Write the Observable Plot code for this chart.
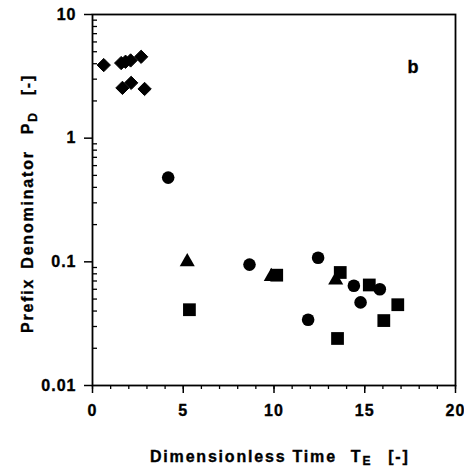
<!DOCTYPE html>
<html>
<head>
<meta charset="utf-8">
<script src="https://cdn.jsdelivr.net/npm/d3@7"></script>
<script src="https://cdn.jsdelivr.net/npm/@observablehq/plot@0.6"></script>
<style>
  html, body { margin: 0; padding: 0; background: #fff; }
  #chart svg { display: block; }
  #chart svg text { stroke: #000; stroke-width: 0.35px; }
</style>
</head>
<body>
<div id="chart"></div>
<script>
// Data (x = dimensionless time T_E, y = prefix denominator P_D)
const diamondX = [0.62, 1.58, 1.82, 2.10, 2.68, 1.65, 2.13, 2.87];
const diamondY = [3.9, 4.05, 4.15, 4.25, 4.55, 2.55, 2.8, 2.5];
const circleX = [4.17, 8.65, 12.43, 11.88, 14.40, 15.83, 14.77];
const circleY = [0.48, 0.095, 0.108, 0.034, 0.064, 0.060, 0.047];
const triangleX = [5.22, 9.85, 13.40];
const triangleY = [0.100, 0.076, 0.071];
const squareX = [5.34, 10.15, 13.65, 15.25, 16.82, 16.05, 13.50];
const squareY = [0.041, 0.078, 0.082, 0.065, 0.045, 0.0335, 0.024];

const xMajor = [0, 5, 10, 15, 20];
const xMinor = d3.range(0, 21, 1);
const yMajor = [0.01, 0.1, 1, 10];
const yMinor = [0.01, 0.1, 1].flatMap(d => [2,3,4,5,6,7,8,9].map(k => +(d * k).toPrecision(3)));

const pts = (xs, ys) => xs.map((x, i) => ({x, y: ys[i]}));

const plot = Plot.plot({
  width: 464,
  height: 468,
  marginLeft: 92,
  marginRight: 9,
  marginTop: 14,
  marginBottom: 83,
  style: {fontFamily: "'Liberation Sans', Arial, sans-serif", fontWeight: "bold", fontSize: "16px", background: "#fff", color: "#000", letterSpacing: "1px"},
  x: {domain: [0, 20], axis: null},
  y: {type: "log", domain: [0.01, 10], axis: null},
  marks: [
    Plot.axisX(xMinor, {tickSize: 4, tickFormat: () => "", strokeWidth: 1.3, label: null}),
    Plot.axisX(xMajor, {tickSize: 8, tickPadding: 11, strokeWidth: 1.5, fontSize: 16, label: null}),
    Plot.axisY(yMinor, {tickSize: -5, tickFormat: () => "", strokeWidth: 1.3, label: null}),
    Plot.axisY(yMajor, {tickSize: 8, tickPadding: 8, strokeWidth: 1.5, fontSize: 16, label: null, tickFormat: d => String(d)}),
    Plot.frame({stroke: "#000", strokeWidth: 1.8}),
    Plot.dot(pts(diamondX, diamondY), {x: "x", y: "y", symbol: "diamond2", r: 6, fill: "#000", stroke: "#000", strokeWidth: 1}),
    Plot.dot(pts(circleX, circleY), {x: "x", y: "y", symbol: "circle", r: 6.3, fill: "#000"}),
    Plot.dot(pts(triangleX, triangleY), {x: "x", y: "y", symbol: "triangle", r: 5.6, fill: "#000"}),
    Plot.dot(pts(squareX, squareY), {x: "x", y: "y", symbol: "square", r: 7.2, fill: "#000"}),
    Plot.text(["b"], {frameAnchor: "top-right", dx: -36, dy: 46, fontSize: 18, fontWeight: "bold", fill: "#000"})
  ]
});

const svg = d3.select(plot);
// x-axis label with subscript
const xl = svg.append("text")
  .attr("x", 150).attr("y", 462)
  .attr("text-anchor", "start")
  .attr("font-size", 16).attr("font-weight", "bold")
  .attr("letter-spacing", 1.8)
  .attr("fill", "#000");
xl.append("tspan").text("Dimensionless Time");
xl.append("tspan").attr("dx", 14).text("T");
xl.append("tspan").attr("dy", 3).attr("font-size", 12).text("E");
xl.append("tspan").attr("dy", -3).attr("dx", 16).text("[-]");

// y-axis label with subscript (reads bottom to top)
const yl = svg.append("text")
  .attr("transform", "translate(33,333) rotate(-90)")
  .attr("text-anchor", "start")
  .attr("font-size", 16).attr("font-weight", "bold")
  .attr("letter-spacing", 1.8)
  .attr("fill", "#000");
yl.append("tspan").text("Prefix");
yl.append("tspan").attr("dx", 9).text("Denominator");
yl.append("tspan").attr("dx", 16).text("P");
yl.append("tspan").attr("dy", 4).attr("font-size", 12).text("D");
yl.append("tspan").attr("dy", -4).attr("dx", 16).text("[-]");

document.getElementById("chart").appendChild(plot);
</script>
</body>
</html>
